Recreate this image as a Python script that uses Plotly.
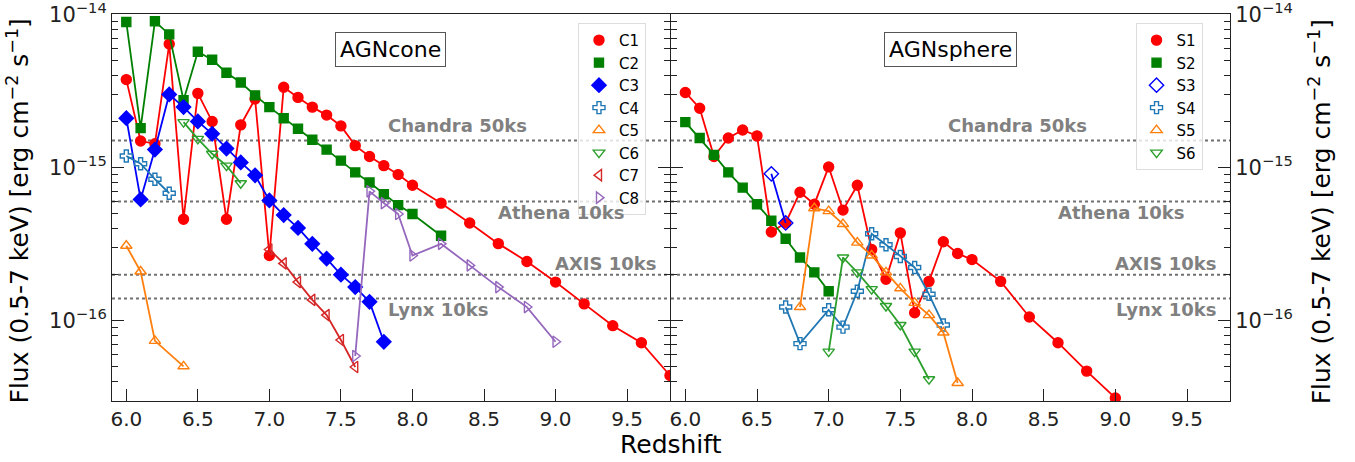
import plotly.graph_objects as go

# ---------------- data ----------------
C1_z = [6.0, 6.1, 6.2, 6.3, 6.4, 6.5, 6.6, 6.7, 6.8, 6.9, 7.0, 7.1, 7.2, 7.3, 7.4, 7.5, 7.6, 7.7, 7.8, 7.9, 8.0,
        8.2, 8.4, 8.6, 8.8, 9.0, 9.2, 9.4, 9.6, 9.8]
C1_f = [3.75e-15, 1.49e-15, 1.43e-15, 6.4e-15, 4.6e-16, 3.05e-15, 2.0e-15, 4.6e-16, 1.9e-15, 2.8e-15,
        2.67e-16, 3.34e-15, 2.87e-15, 2.48e-15, 2.2e-15, 1.87e-15, 1.39e-15, 1.18e-15, 1.03e-15, 9.0e-16,
        7.66e-16, 5.86e-16, 4.35e-16, 3.19e-16, 2.44e-16, 1.79e-16, 1.29e-16, 9.3e-17, 7.2e-17, 4.4e-17]
C2_z = [6.0, 6.1, 6.2, 6.3, 6.4, 6.5, 6.6, 6.7, 6.8, 6.9, 7.0, 7.1, 7.2, 7.3, 7.4, 7.5, 7.6, 7.7, 7.8, 7.9, 8.0, 8.2]
C2_f = [8.9e-15, 1.81e-15, 9.0e-15, 7.4e-15, 2.75e-15, 5.7e-15, 5.05e-15, 4.16e-15, 3.59e-15, 2.96e-15,
        2.48e-15, 2.1e-15, 1.79e-15, 1.52e-15, 1.31e-15, 1.11e-15, 9.3e-16, 8.0e-16, 6.7e-16, 5.69e-16,
        4.98e-16, 3.59e-16]
C3_z = [6.0, 6.1, 6.2, 6.3, 6.4, 6.5, 6.6, 6.7, 6.8, 6.9, 7.0, 7.1, 7.2, 7.3, 7.4, 7.5, 7.6, 7.7, 7.8]
C3_f = [2.1e-15, 6.2e-16, 1.31e-15, 3.0e-15, 2.48e-15, 2.0e-15, 1.66e-15, 1.33e-15, 1.08e-15, 8.9e-16,
        6.1e-16, 4.9e-16, 4.04e-16, 3.18e-16, 2.55e-16, 2.0e-16, 1.66e-16, 1.33e-16, 7.3e-17]
C4_z = [6.0, 6.1, 6.2, 6.3]
C4_f = [1.19e-15, 1.06e-15, 8.4e-16, 6.8e-16]
C5_z = [6.0, 6.1, 6.2, 6.4]
C5_f = [3.09e-16, 2.1e-16, 7.4e-17, 5.05e-17]
C6_z = [6.4, 6.5, 6.6, 6.7, 6.8]
C6_f = [1.98e-15, 1.54e-15, 1.23e-15, 1.03e-15, 7.9e-16]
C7_z = [7.0, 7.1, 7.2, 7.3, 7.4, 7.5, 7.6]
C7_f = [2.92e-16, 2.37e-16, 1.79e-16, 1.37e-16, 1.09e-16, 7.5e-17, 5.0e-17]
C8_z = [7.6, 7.7, 7.8, 7.9, 8.0, 8.2, 8.4, 8.6, 8.8, 9.0]
C8_f = [5.9e-17, 7.0e-16, 5.86e-16, 4.98e-16, 2.67e-16, 3.18e-16, 2.3e-16, 1.66e-16, 1.23e-16, 7.3e-17]

S1_z = [6.0, 6.1, 6.2, 6.3, 6.4, 6.5, 6.6, 6.7, 6.8, 6.9, 7.0, 7.1, 7.2, 7.3, 7.4, 7.5, 7.6, 7.7, 7.8, 7.9, 8.0,
        8.2, 8.4, 8.6, 8.8, 9.0]
S1_f = [3.09e-15, 2.44e-15, 1.18e-15, 1.56e-15, 1.76e-15, 1.61e-15, 3.8e-16, 4.35e-16, 6.9e-16, 5.77e-16,
        1.01e-15, 5.28e-16, 7.66e-16, 2.92e-16, 1.87e-16, 3.75e-16, 1.13e-16, 1.81e-16, 3.28e-16, 2.75e-16,
        2.51e-16, 1.81e-16, 1.06e-16, 7.2e-17, 4.7e-17, 3.14e-17]
S2_z = [6.0, 6.1, 6.2, 6.3, 6.4, 6.5, 6.6, 6.7, 6.8, 6.9, 7.0]
S2_f = [1.98e-15, 1.56e-15, 1.21e-15, 9.3e-16, 7.4e-16, 5.77e-16, 4.5e-16, 3.43e-16, 2.59e-16, 2.07e-16, 1.56e-16]
S3_z = [6.6, 6.7]
S3_f = [9.1e-16, 4.35e-16]
S4_z = [6.7, 6.8, 7.0, 7.1, 7.2, 7.3, 7.4, 7.5, 7.6, 7.7, 7.8]
S4_f = [1.23e-16, 7.1e-17, 1.18e-16, 9.1e-17, 1.56e-16, 3.7e-16, 3.14e-16, 2.63e-16, 2.23e-16, 1.49e-16, 9.4e-17]
S5_z = [6.8, 6.9, 7.0, 7.1, 7.2, 7.3, 7.4, 7.5, 7.6, 7.7, 7.8, 7.9]
S5_f = [1.23e-16, 5.43e-16, 5.2e-16, 4.28e-16, 3.24e-16, 2.67e-16, 2.07e-16, 1.63e-16, 1.31e-16, 1.09e-16,
        8.4e-17, 3.93e-17]
S6_z = [7.0, 7.1, 7.2, 7.3, 7.4, 7.5, 7.6, 7.7]
S6_f = [6.3e-17, 2.59e-16, 2.07e-16, 1.61e-16, 1.25e-16, 9.4e-17, 6.3e-17, 4.16e-17]

limit_names = ["Chandra 50ks", "Athena 10ks", "AXIS 10ks", "Lynx 10ks"]
limit_flux = [1.5e-15, 6e-16, 2e-16, 1.4e-16]

x_ticks = [6.0, 6.5, 7.0, 7.5, 8.0, 8.5, 9.0, 9.5]
x_ticktext = ["6.0", "6.5", "7.0", "7.5", "8.0", "8.5", "9.0", "9.5"]
y_ticks = [1e-16, 1e-15, 1e-14]
y_ticktext = ["10<sup>−16</sup>", "10<sup>−15</sup>", "10<sup>−14</sup>"]
y_minor = [m * 10.0 ** e for e in (-17, -16, -15) for m in range(2, 10)]

# ---------------- styles ----------------
FONT = "DejaVu Sans"
cone = [
    ("C1", C1_z, C1_f, "red", "circle", 10),
    ("C2", C2_z, C2_f, "green", "square", 9),
    ("C3", C3_z, C3_f, "blue", "diamond", 11),
    ("C4", C4_z, C4_f, "#1f77b4", "cross-open", 10),
    ("C5", C5_z, C5_f, "#ff7f0e", "triangle-up-open", 10),
    ("C6", C6_z, C6_f, "#2ca02c", "triangle-down-open", 10),
    ("C7", C7_z, C7_f, "#d62728", "triangle-left-open", 10),
    ("C8", C8_z, C8_f, "#9467bd", "triangle-right-open", 10),
]
sphere = [
    ("S1", S1_z, S1_f, "red", "circle", 10),
    ("S2", S2_z, S2_f, "green", "square", 9),
    ("S3", S3_z, S3_f, "blue", "diamond-open", 11),
    ("S4", S4_z, S4_f, "#1f77b4", "cross-open", 10),
    ("S5", S5_z, S5_f, "#ff7f0e", "triangle-up-open", 10),
    ("S6", S6_z, S6_f, "#2ca02c", "triangle-down-open", 10),
]

fig = go.Figure()


def add_group(group, xa, ya, legend):
    for name, z, f, col, sym, sz in group:
        fig.add_trace(go.Scatter(
            x=z, y=f, mode="lines+markers", xaxis=xa, yaxis=ya, showlegend=False,
            line=dict(color=col, width=1.8),
            marker=dict(symbol=sym, size=sz, color=col, line=dict(color=col, width=1.4)),
        ))
    for name, z, f, col, sym, sz in group:
        fig.add_trace(go.Scatter(
            x=[None], y=[None], mode="markers", xaxis=xa, yaxis=ya, name=name, legend=legend,
            marker=dict(symbol=sym, size=sz, color=col, line=dict(color=col, width=1.4)),
        ))


add_group(cone, "x", "y", "legend")
add_group(sphere, "x2", "y2", "legend2")

# limit lines and labels
label_pos = {
    "x": [(0.747, 0.711), (0.923, 0.487), (0.978, 0.356), (0.677, 0.237)],
    "x2": [(0.748, 0.711), (0.923, 0.487), (0.979, 0.356), (0.979, 0.237)],
}
for xa, ya in (("x", "y"), ("x2", "y2")):
    for (name, fl), (lx, ly) in zip(zip(limit_names, limit_flux), label_pos[xa]):
        fig.add_shape(type="line", xref=xa + " domain", yref=ya, x0=0, x1=1, y0=fl, y1=fl,
                      line=dict(color="#707070", width=2, dash="dot"), layer="below")
        fig.add_annotation(text="<b>" + name + "</b>", xref=xa + " domain", yref=ya + " domain",
                           x=lx, y=ly, xanchor="right", yanchor="middle", showarrow=False,
                           font=dict(family=FONT, size=18, color="#808080"))

for xa, txt in (("x", "AGNcone"), ("x2", "AGNsphere")):
    fig.add_annotation(text=txt, xref=xa + " domain", yref="paper", x=0.5, y=0.907,
                       xanchor="center", yanchor="middle", showarrow=False,
                       font=dict(family=FONT, size=22, color="black"),
                       bordercolor="#555", borderwidth=1, borderpad=4, bgcolor="white")

ytitle = "Flux (0.5-7 keV) [erg cm<sup>−2</sup> s<sup>−1</sup>]"
fig.add_annotation(text=ytitle, xref="paper", yref="paper", x=-0.084, y=0.49, textangle=-90,
                   showarrow=False, xanchor="center", yanchor="middle",
                   font=dict(family=FONT, size=25, color="black"))
fig.add_annotation(text=ytitle, xref="paper", yref="paper", x=1.0805, y=0.49, textangle=-90,
                   showarrow=False, xanchor="center", yanchor="middle",
                   font=dict(family=FONT, size=25, color="black"))
fig.add_annotation(text="Redshift", xref="paper", yref="paper", x=0.5, y=-0.113,
                   showarrow=False, xanchor="center", yanchor="middle",
                   font=dict(family=FONT, size=25, color="black"))

xcommon = dict(range=[5.9, 9.8], tickmode="array", tickvals=x_ticks, ticktext=x_ticktext,
               ticks="inside", ticklen=12, tickwidth=1, tickcolor="#222", automargin=False,
               ticklabeloverflow="allow",
               showline=True, linecolor="#222", linewidth=1, mirror=True, showgrid=False, zeroline=False,
               tickfont=dict(family=FONT, size=20, color="#222"))
ycommon = dict(type="log", range=[-16.523, -13.998], tickmode="array", tickvals=y_ticks, ticktext=y_ticktext,
               ticks="inside", ticklen=12, tickwidth=1, tickcolor="#222", automargin=False,
               ticklabeloverflow="allow",
               showline=True, linecolor="#222", linewidth=1, mirror="ticks", showgrid=False, zeroline=False,
               tickfont=dict(family=FONT, size=21, color="#222"),
               minor=dict(tickvals=y_minor, ticks="inside", ticklen=6, tickwidth=1, tickcolor="#222",
                          showgrid=False))

fig.update_layout(
    width=1355, height=462,
    margin=dict(l=112, r=125, t=14, b=61, autoexpand=False),
    paper_bgcolor="white", plot_bgcolor="white",
    font=dict(family=FONT),
    xaxis=dict(domain=[0, 0.4991], anchor="y", **xcommon),
    xaxis2=dict(domain=[0.5, 1.0], anchor="y2", **xcommon),
    yaxis=dict(domain=[0, 1], anchor="x", side="left", **ycommon),
    yaxis2=dict(domain=[0, 1], anchor="x2", side="right", **ycommon),
    legend=dict(x=0.4168, y=0.977, xanchor="left", yanchor="top", bgcolor="rgba(255,255,255,0.8)",
                bordercolor="#ddd", borderwidth=1, font=dict(family=FONT, size=15, color="black"),
                tracegroupgap=0, itemwidth=30),
    legend2=dict(x=0.9155, y=0.977, xanchor="left", yanchor="top", bgcolor="rgba(255,255,255,0.8)",
                 bordercolor="#ddd", borderwidth=1, font=dict(family=FONT, size=15, color="black"),
                 tracegroupgap=0, itemwidth=30),
    showlegend=True,
)

fig.write_html("out.html", config={"displayModeBar": False},
               post_script="document.body.style.margin='0';")
